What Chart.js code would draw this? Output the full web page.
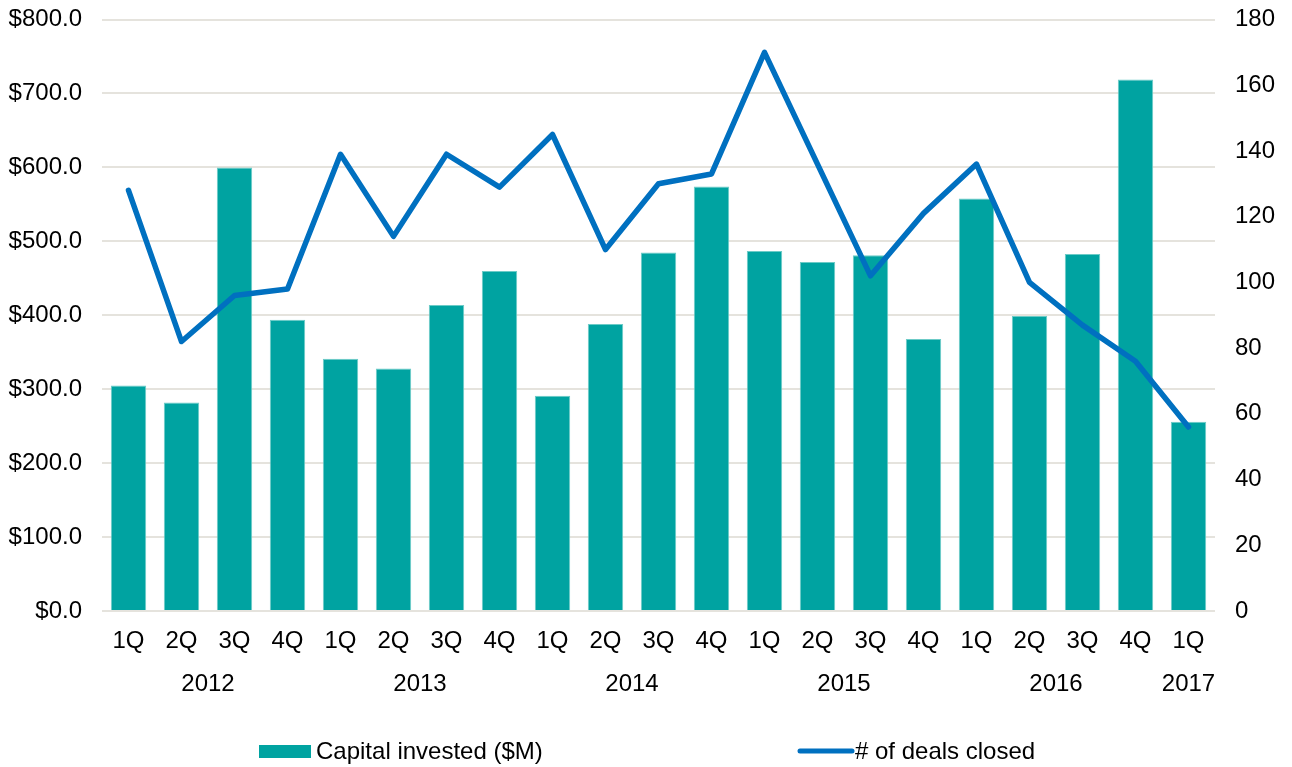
<!DOCTYPE html>
<html>
<head>
<meta charset="utf-8">
<script src="https://cdn.jsdelivr.net/npm/chart.js@4.4.1/dist/chart.umd.min.js"></script>
<style>
    html, body { margin: 0; padding: 0; background: #ffffff; }
    #wrap { width: 1292px; height: 767px; position: relative; }
</style>
</head>
<body>
<div id="wrap"><canvas id="dealsChart"></canvas></div>
<script>
const quarters = [
    '1Q', '2Q', '3Q', '4Q',
    '1Q', '2Q', '3Q', '4Q',
    '1Q', '2Q', '3Q', '4Q',
    '1Q', '2Q', '3Q', '4Q',
    '1Q', '2Q', '3Q', '4Q',
    '1Q'
];
const years = ['2012', '2013', '2014', '2015', '2016', '2017'];
const quartersPerYear = [4, 4, 4, 4, 4, 1];

// Capital invested ($M), left axis
const capitalInvested = [
    305, 282, 600, 394,
    341, 328, 414, 460,
    291, 388, 485, 574,
    487, 472, 481, 368,
    558, 399, 483, 719,
    256
];

// # of deals closed, right axis
const dealsClosed = [
    128, 82, 96, 98,
    139, 114, 139, 129,
    145, 110, 130, 133,
    170, 136, 102, 121,
    136, 100, 87, 76,
    56
];

const FONT = '"Liberation Sans", Arial, sans-serif';
const FONT_SIZE = 24;
const TEAL = '#00a3a1';
const BLUE = '#0070c0';
const GRID = '#e5e3dd';

// Second row of x labels: one year label centred under its quarters
const yearRow = {
    id: 'yearRow',
    afterDraw(chart) {
        const ctx = chart.ctx;
        const x = chart.scales.x;
        ctx.save();
        ctx.font = `${FONT_SIZE}px ${FONT}`;
        ctx.fillStyle = '#000';
        ctx.textAlign = 'center';
        ctx.textBaseline = 'middle';
        let idx = 0;
        years.forEach((yr, i) => {
            const first = idx;
            const last = idx + quartersPerYear[i] - 1;
            const cx = (x.getPixelForValue(first) + x.getPixelForValue(last)) / 2;
            ctx.fillText(yr, cx, x.top + 73);
            idx += quartersPerYear[i];
        });
        ctx.restore();
    }
};

// Legend along the bottom edge
const bottomLegend = {
    id: 'bottomLegend',
    afterDraw(chart) {
        const ctx = chart.ctx;
        const ds = chart.data.datasets;
        const y = 751;
        ctx.save();
        ctx.font = `${FONT_SIZE}px ${FONT}`;
        ctx.textBaseline = 'middle';

        ctx.fillStyle = ds[1].backgroundColor;
        ctx.fillRect(259, y - 6, 52, 13);
        ctx.fillStyle = '#000';
        ctx.fillText(ds[1].label, 316, y + 1);

        ctx.strokeStyle = ds[0].borderColor;
        ctx.lineWidth = 5;
        ctx.lineCap = 'round';
        ctx.beginPath();
        ctx.moveTo(800, y);
        ctx.lineTo(852, y);
        ctx.stroke();
        ctx.fillText(ds[0].label, 855, y + 1);
        ctx.restore();
    }
};

// keep the value axes from reserving extra room above the top tick
function fitVertical(width) {
    return scale => {
        scale.width = width;
        scale.paddingTop = 0;
        scale.paddingBottom = 0;
    };
}

Chart.defaults.font.family = FONT;
Chart.defaults.font.size = FONT_SIZE;
Chart.defaults.color = '#000';

new Chart(document.getElementById('dealsChart'), {
    type: 'bar',
    data: {
        labels: quarters,
        datasets: [
            {
                type: 'line',
                label: '# of deals closed',
                data: dealsClosed,
                yAxisID: 'y1',
                borderColor: BLUE,
                borderWidth: 5.5,
                borderJoinStyle: 'round',
                borderCapStyle: 'round',
                pointRadius: 0,
                tension: 0,
                order: 0
            },
            {
                type: 'bar',
                label: 'Capital invested ($M)',
                data: capitalInvested,
                yAxisID: 'y',
                backgroundColor: TEAL,
                borderColor: '#6ccbc7',
                borderWidth: 1,
                borderSkipped: 'bottom',
                categoryPercentage: 1,
                barPercentage: 0.668,
                order: 1
            }
        ]
    },
    options: {
        responsive: true,
        maintainAspectRatio: false,
        animation: false,
        layout: { padding: { top: 19.5, right: 0, bottom: 0, left: 0 } },
        plugins: {
            legend: { display: false },
            tooltip: { enabled: false }
        },
        scales: {
            x: {
                grid: { display: false, drawTicks: false },
                border: { display: false },
                ticks: { padding: 16, maxRotation: 0, autoSkip: false },
                afterFit(scale) { scale.height = 156; }
            },
            y: {
                position: 'left',
                min: 0,
                max: 800,
                ticks: {
                    stepSize: 100,
                    padding: 20,
                    callback: v => '$' + v.toFixed(1)
                },
                grid: { color: GRID, lineWidth: 2, drawTicks: false },
                border: { display: false },
                afterFit: fitVertical(102)
            },
            y1: {
                position: 'right',
                min: 0,
                max: 180,
                ticks: { stepSize: 20, padding: 20 },
                grid: { drawOnChartArea: false, drawTicks: false },
                border: { display: false },
                afterFit: fitVertical(77)
            }
        }
    },
    plugins: [yearRow, bottomLegend]
});
</script>
</body>
</html>
